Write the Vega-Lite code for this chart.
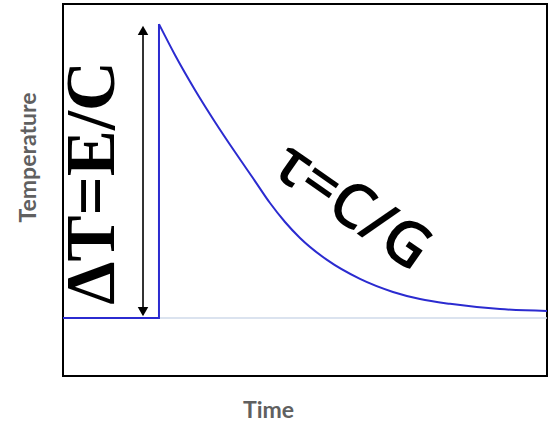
{
  "$schema": "https://vega.github.io/schema/vega-lite/v6.json",
  "width": 484,
  "height": 372,
  "autosize": {"type": "none"},
  "padding": {"left": 63, "top": 4, "right": 4, "bottom": 46},
  "background": "white",
  "config": {
    "view": {"stroke": "black", "strokeWidth": 2},
    "axis": {"grid": false, "ticks": false, "labels": false, "domain": false,
      "titleFont": "Lato", "titleFontWeight": "bold", "titleFontSize": 23, "titleColor": "#606060"}
  },
  "layer": [
    {
      "data": {"values": [{"level": 15.6}]},
      "mark": {"type": "rule", "color": "#cfdaea", "strokeWidth": 1.5},
      "encoding": {
        "y": {"field": "level", "type": "quantitative", "scale": {"domain": [0, 100], "nice": false, "zero": false},
          "axis": {"title": "Temperature", "titleAngle": -90, "titleX": -35, "titleY": 153, "titleAlign": "center", "titleBaseline": "middle"}}
      }
    },
    {
      "data": {"values": [
        {"t": 0, "temp": 15.6, "i": 0},
        {"t": 19.83, "temp": 15.6, "i": 1},
        {"t": 19.83, "temp": 94.6, "i": 2}
      ]},
      "mark": {"type": "line", "color": "#2b2bd0", "strokeWidth": 2},
      "encoding": {
        "x": {"field": "t", "type": "quantitative", "scale": {"domain": [0, 100], "nice": false, "zero": false},
          "axis": {"title": "Time", "titleX": 205, "titleY": 34, "titleAlign": "center", "titleBaseline": "middle"}},
        "y": {"field": "temp", "type": "quantitative"},
        "order": {"field": "i", "type": "quantitative"}
      }
    },
    {
      "data": {"values": [
        {"t": 19.83, "temp": 94.6},
        {"t": 23.14, "temp": 86.3},
        {"t": 27.27, "temp": 76.9},
        {"t": 31.4, "temp": 68.3},
        {"t": 35.54, "temp": 60.2},
        {"t": 39.67, "temp": 52.4},
        {"t": 42.77, "temp": 46.5},
        {"t": 45.87, "temp": 41.4},
        {"t": 48.97, "temp": 37.1},
        {"t": 54.55, "temp": 31.2},
        {"t": 61.36, "temp": 26.1},
        {"t": 68.18, "temp": 22.6},
        {"t": 73.76, "temp": 20.7},
        {"t": 79.96, "temp": 19.4},
        {"t": 90.29, "temp": 18.0},
        {"t": 100, "temp": 17.5}
      ]},
      "mark": {"type": "line", "color": "#2b2bd0", "strokeWidth": 2, "interpolate": "monotone"},
      "encoding": {
        "x": {"field": "t", "type": "quantitative"},
        "y": {"field": "temp", "type": "quantitative"}
      }
    },
    {
      "data": {"values": [{"t": 16.53, "lo": 16.5, "hi": 93.5}]},
      "mark": {"type": "rule", "color": "black", "strokeWidth": 1.6},
      "encoding": {
        "x": {"field": "t", "type": "quantitative"},
        "y": {"field": "lo", "type": "quantitative"},
        "y2": {"field": "hi"}
      }
    },
    {
      "data": {"values": [
        {"t": 16.53, "temp": 92.9, "head": "triangle-up"},
        {"t": 16.53, "temp": 17.3, "head": "triangle-down"}
      ]},
      "mark": {"type": "point", "filled": true, "color": "black", "size": 110, "opacity": 1},
      "encoding": {
        "x": {"field": "t", "type": "quantitative"},
        "y": {"field": "temp", "type": "quantitative"},
        "shape": {"field": "head", "type": "nominal", "scale": {"domain": ["triangle-up", "triangle-down"], "range": ["triangle-up", "triangle-down"]}, "legend": null}
      }
    },
    {
      "data": {"values": [{"t": 6.2, "temp": 51.9, "label": "ΔT=E/C"}]},
      "mark": {"type": "text", "angle": 270, "font": "Liberation Serif", "fontWeight": "bold", "fontSize": 69, "color": "black", "align": "center", "baseline": "middle"},
      "encoding": {
        "x": {"field": "t", "type": "quantitative"},
        "y": {"field": "temp", "type": "quantitative"},
        "text": {"field": "label"}
      }
    },
    {
      "data": {"values": [{"t": 59.7, "temp": 45.4, "label": "τ=C/G"}]},
      "mark": {"type": "text", "angle": 35, "font": "Open Sans", "fontWeight": 600, "fontSize": 62, "color": "black", "align": "center", "baseline": "middle"},
      "encoding": {
        "x": {"field": "t", "type": "quantitative"},
        "y": {"field": "temp", "type": "quantitative"},
        "text": {"field": "label"}
      }
    }
  ]
}
